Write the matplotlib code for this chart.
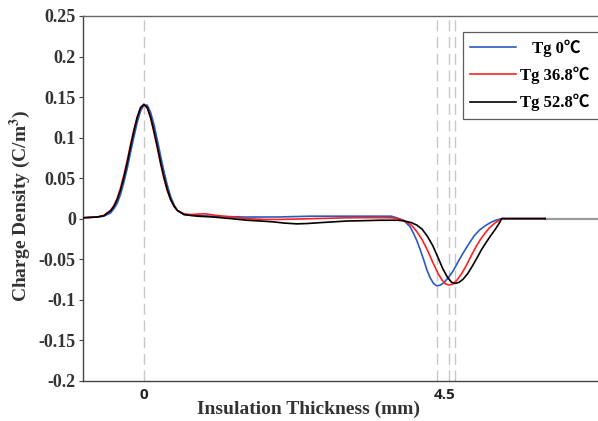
import matplotlib
matplotlib.use("Agg")
import matplotlib.pyplot as plt

plt.rcParams['font.family'] = ['Liberation Serif', 'DejaVu Serif']
plt.rcParams['mathtext.fontset'] = 'stix'

# blue: Tg 0
x_blue = [-0.916, -0.7, -0.6, -0.5, -0.45, -0.4, -0.35, -0.3, -0.25, -0.2, -0.15, -0.1, -0.05,
          0.0, 0.05, 0.1, 0.15, 0.2, 0.25, 0.3, 0.35, 0.4, 0.45, 0.5, 0.6, 0.7, 0.8,
          1.0, 1.5, 2.0, 2.5, 3.0, 3.5, 3.70, 3.78, 3.88, 3.98, 4.03, 4.08, 4.13, 4.18, 4.23,
          4.28, 4.33, 4.38, 4.43, 4.48, 4.55, 4.62, 4.70, 4.78, 4.86, 4.94, 5.02, 5.10,
          5.18, 5.26, 5.35, 6.0]
y_blue = [0.001, 0.002, 0.003, 0.007, 0.012, 0.019, 0.030, 0.045, 0.062, 0.082, 0.101, 0.119, 0.133,
          0.140, 0.140, 0.131, 0.116, 0.097, 0.077, 0.058, 0.041, 0.027, 0.017, 0.010, 0.005, 0.004, 0.004,
          0.003, 0.002, 0.002, 0.003, 0.003, 0.003, 0.003, 0.001, -0.002, -0.010, -0.018, -0.027, -0.038,
          -0.050, -0.063, -0.073, -0.080, -0.083, -0.082, -0.0795, -0.073, -0.065, -0.053, -0.0415,
          -0.031, -0.021, -0.014, -0.009, -0.005, -0.002, 0.0, 0.0]

# red: Tg 36.8
x_red = [-0.916, -0.7, -0.6, -0.5, -0.45, -0.4, -0.35, -0.3, -0.25, -0.2, -0.15, -0.1, -0.05,
         0.0, 0.05, 0.1, 0.15, 0.2, 0.25, 0.3, 0.35, 0.4, 0.45, 0.5, 0.6, 0.69, 0.8, 0.91, 1.03,
         1.18, 1.35, 1.54, 1.8, 2.03, 2.3, 2.53, 2.8, 3.03, 3.3, 3.53, 3.70, 3.80, 3.90, 4.00,
         4.08, 4.16, 4.24, 4.32, 4.40, 4.46, 4.51, 4.56, 4.62, 4.68, 4.75, 4.82, 4.89, 4.96,
         5.03, 5.10, 5.17, 5.24, 5.30, 5.35, 6.0]
y_red = [0.001, 0.002, 0.004, 0.010, 0.016, 0.025, 0.038, 0.054, 0.072, 0.092, 0.110, 0.126, 0.137,
         0.141, 0.136, 0.124, 0.106, 0.087, 0.067, 0.049, 0.034, 0.023, 0.015, 0.010, 0.006, 0.005, 0.0055,
         0.006, 0.0045, 0.003, 0.0015, 0.0, -0.001, -0.001, -0.0005, 0.0, 0.0005, 0.001, 0.0012, 0.0012,
         0.001, 0.0, -0.003, -0.008, -0.016, -0.026, -0.039, -0.054, -0.068, -0.076, -0.0805, -0.082,
         -0.0805, -0.076, -0.068, -0.058, -0.0465, -0.0355, -0.026, -0.018, -0.011, -0.006, -0.0025,
         0.0, 0.0]

# black: Tg 52.8
x_black = [-0.916, -0.7, -0.6, -0.5, -0.45, -0.4, -0.35, -0.3, -0.25, -0.2, -0.15, -0.1, -0.05,
           0.0, 0.05, 0.1, 0.15, 0.2, 0.25, 0.3, 0.35, 0.4, 0.45, 0.5, 0.6, 0.7, 0.8,
           1.03, 1.3, 1.54, 1.75, 1.93, 2.1, 2.29, 2.45, 2.63, 2.83, 3.03, 3.3, 3.53, 3.80, 3.90,
           4.00, 4.08, 4.16, 4.24, 4.32, 4.40, 4.47, 4.54, 4.60, 4.65, 4.71, 4.77, 4.84, 4.91,
           4.98, 5.05, 5.12, 5.19, 5.26, 5.31, 5.35, 6.0]
y_black = [0.001, 0.002, 0.0035, 0.0095, 0.015, 0.0235, 0.0355, 0.051, 0.069, 0.089, 0.108, 0.125, 0.137,
           0.141, 0.137, 0.125, 0.108, 0.089, 0.069, 0.051, 0.0355, 0.0235, 0.0155, 0.010, 0.005, 0.004, 0.003,
           0.002, 0.0, -0.002, -0.003, -0.004, -0.0055, -0.0065, -0.006, -0.005, -0.004, -0.003, -0.0025,
           -0.002, -0.002, -0.003, -0.005, -0.008, -0.013, -0.022, -0.0335, -0.0485, -0.062, -0.0725,
           -0.0785, -0.080, -0.0787, -0.075, -0.068, -0.0587, -0.0485, -0.038, -0.029, -0.0205, -0.0125,
           -0.006, 0.0, 0.0]

labels = ['   Tg 0\u2103', 'Tg 36.8\u2103', 'Tg 52.8\u2103']
marker_x = [0.0, 4.38, 4.56, 4.65]
tail_x = [6.0, 7.0]
tail_y = [0.0, 0.0]

yticks = [-0.2, -0.15, -0.1, -0.05, 0, 0.05, 0.1, 0.15, 0.2, 0.25]
ytick_labels = ['-0.2', '-0.15', '-0.1', '-0.05', '0', '0.05', '0.1', '0.15', '0.2', '0.25']
xticks = [0, 4.5]
xtick_labels = ['0', '4.5']

fig = plt.figure(figsize=(5.98, 4.21), dpi=100)
ax = fig.add_axes([0.1383, 0.0957, 0.8617, 0.8663])

for xv in marker_x:
    ax.axvline(xv, color='#c8c8c8', lw=1.0, ls=(0, (8, 4)), zorder=1)

ax.plot(tail_x, tail_y, color='#9a9a9a', lw=1.6, zorder=1)
ax.plot(x_blue, y_blue, color='#2a5cc0', lw=1.2, label=labels[0], zorder=3)
ax.plot(x_red, y_red, color='#ff2020', lw=1.2, label=labels[1], zorder=4)
ax.plot(x_black, y_black, color='black', lw=1.2, label=labels[2], zorder=5)

ax.set_xlim(-0.916, 6.79)
ax.set_ylim(-0.2, 0.25)

ax.set_yticks(yticks)
ax.set_yticklabels(ytick_labels, fontsize=13, fontweight='bold', color='#333333')
ax.set_xticks(xticks)
ax.set_xticklabels(xtick_labels, fontsize=11, fontweight='bold', family='Open Sans', color='#222222')
ax.tick_params(axis='x', length=0, pad=5)
ax.tick_params(axis='y', length=3, width=0.8, color='#444444', pad=2, direction='out')

ax.spines['right'].set_visible(False)
for s in ['left', 'bottom']:
    ax.spines[s].set_color('#444444')
    ax.spines[s].set_linewidth(1.0)
ax.spines['top'].set_color('#666666')
ax.spines['top'].set_linewidth(1.0)

ax.set_xlabel('Insulation Thickness (mm)', fontsize=14, fontweight='bold', color='#333333')
ax.set_ylabel('Charge Density (C/m$^{\\mathbf{3}}$)', fontsize=14, fontweight='bold', color='#333333')
ax.xaxis.set_label_coords(0.438, -0.055)
ax.yaxis.set_label_coords(-0.097, 0.48)

leg = ax.legend(loc='upper left', bbox_to_anchor=(0.738, 0.957, 0.32, 0.0), mode='expand',
                frameon=True, fancybox=False, borderaxespad=0, handlelength=2.75,
                handletextpad=0.25, labelspacing=0.6, borderpad=0.45,
                prop={'size': 12, 'weight': 'bold',
                      'family': ['Liberation Serif', 'Noto Sans CJK SC']})
leg.get_frame().set_edgecolor('#333333')
leg.get_frame().set_linewidth(0.9)
leg.set_zorder(10)

fig.savefig('out.png', dpi=100)
